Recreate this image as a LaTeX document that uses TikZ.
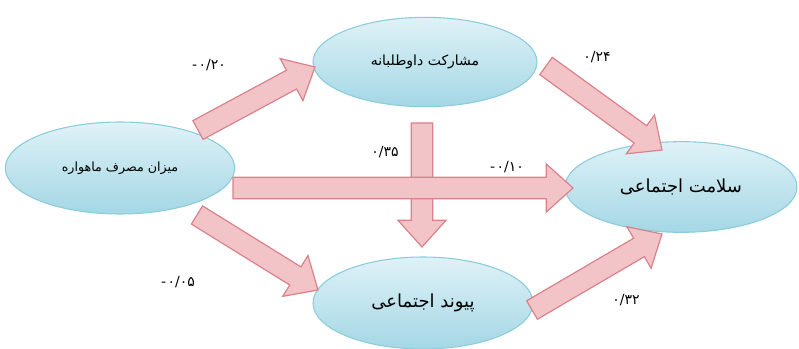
\documentclass[tikz,border=0pt]{standalone}
\usepackage{fontspec}
\TeXXeTstate=1
\newfontfamily\farsi[Script=Arabic]{DejaVu Sans}
\usetikzlibrary{calc,shapes.geometric}

\definecolor{ellTop}{HTML}{DFF2F7}
\definecolor{ellBot}{HTML}{A4D7E5}
\definecolor{ellEdge}{HTML}{8BCBDC}
\definecolor{arrFill}{HTML}{F2C3C7}
\definecolor{arrEdge}{HTML}{D9828B}

\tikzset{
  factor/.style={ellipse, draw=ellEdge, line width=0.8pt, top color=ellTop, bottom color=ellBot, inner sep=0pt},
  coef/.style={font=\farsi\fontsize{10.5}{12}\selectfont},
  fatarrow/.style={draw=arrEdge, fill=arrFill, line width=0.9pt, line join=miter}
}

\begin{document}
\begin{tikzpicture}[x=0.75pt,y=-0.75pt]

    \useasboundingbox (0,0) rectangle (799,349);

    % variables
    \node [factor, minimum width=172pt, minimum height=69pt, font=\farsi\fontsize{9.5}{11}\selectfont] (msat) at (120,168) {\beginR میزان مصرف ماهواره\endR};
    \node [factor, minimum width=168pt, minimum height=67pt, font=\farsi\fontsize{10.5}{12}\selectfont] (part) at (425,62) {\beginR مشارکت داوطلبانه\endR};
    \node [factor, minimum width=174pt, minimum height=68pt, font=\farsi\fontsize{13.5}{15}\selectfont] (health) at (681,187) {\beginR سلامت اجتماعی\endR};
    \node [factor, minimum width=165pt, minimum height=69pt, font=\farsi\fontsize{13.5}{15}\selectfont] (bond) at (423,303) {\beginR پیوند اجتماعی\endR};

    % arrow ends
    \coordinate (ta) at (198,130);
    \coordinate (ha) at (315,67);
    \coordinate (tb) at (546,66);
    \coordinate (hb) at (662,150);
    \coordinate (tc) at (233,188);
    \coordinate (hc) at (573,188);
    \coordinate (td) at (422,123);
    \coordinate (hd) at (422,247);
    \coordinate (te) at (197,215);
    \coordinate (he) at (318,290);
    \coordinate (tf) at (532,310);
    \coordinate (hf) at (662,234);

    \foreach \a/\b in {ta/ha,tb/hb,td/hd,tc/hc,te/he,tf/hf}
    {
        \coordinate (neck) at ($(\b)!20pt!(\a)$);
        \draw [fatarrow] ($(\a)!8pt!90:(\b)$) -- ($(neck)!8pt!-90:(\a)$) -- ($(neck)!18pt!-90:(\a)$) -- (\b)
            -- ($(neck)!18pt!90:(\a)$) -- ($(neck)!8pt!90:(\a)$) -- ($(\a)!8pt!-90:(\b)$) -- cycle;
    }

    % coefficients
    \node [coef] (ca) at (209,65) {-\kern1pt ۰/۲۰};
    \node [coef] (cb) at (597,57) {۰/۲۴};
    \node [coef] (cd) at (385,152) {۰/۳۵};
    \node [coef] (cc) at (507,167) {-\kern1pt ۰/۱۰};
    \node [coef] (ce) at (178,282) {-\kern1pt ۰/۰۵};
    \node [coef] (cf) at (626,300) {۰/۳۲};

\end{tikzpicture}
\end{document}
